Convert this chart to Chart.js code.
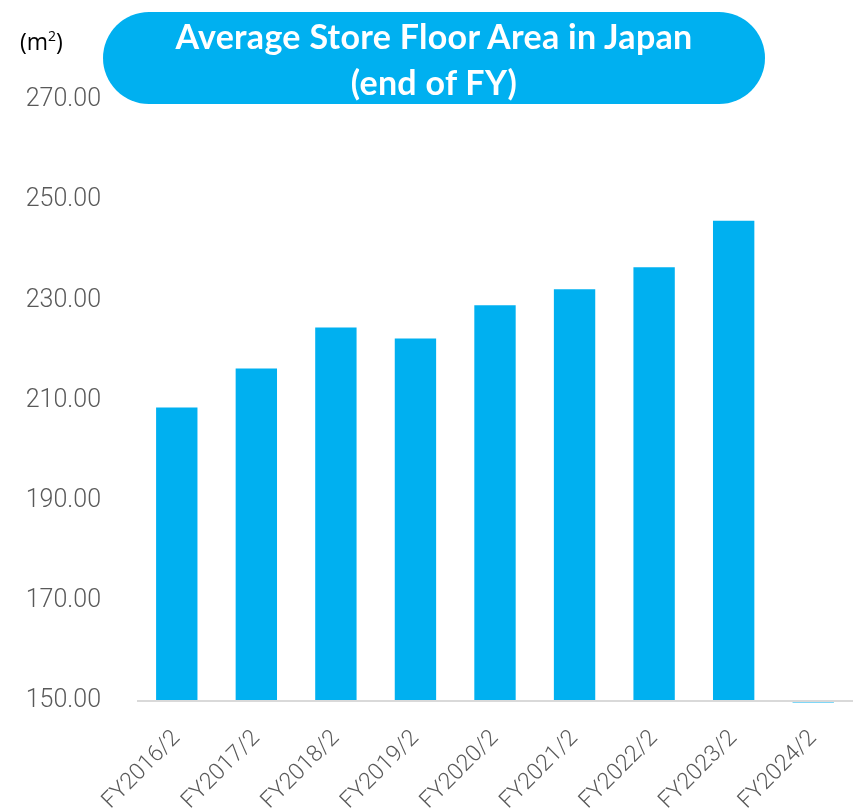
<!DOCTYPE html>
<html>
<head>
<meta charset="utf-8">
<script src="https://cdn.jsdelivr.net/npm/chart.js@4"></script>
<style>
    html, body { margin: 0; padding: 0; background: #fff; overflow: hidden; }
    #wrap { position: relative; width: 855px; height: 808px; overflow: hidden; }
    #title {
        position: absolute; left: 103px; top: 12px; width: 662px; height: 92px;
        background: #00b0f0; border-radius: 46px;
        color: #fff; font-family: Lato, sans-serif; font-weight: bold; font-size: 34px;
        letter-spacing: 0.3px; line-height: 46px; text-align: center; padding-top: 1px;
        box-sizing: border-box;
    }
    #unit {
        position: absolute; left: 20px; top: 25px;
        font-family: "Open Sans", sans-serif; font-size: 23px; color: #000;
    }
    #unit sup { font-size: 14px; }
</style>
</head>
<body>
<div id="wrap">
    <canvas id="floorChart" width="855" height="831"></canvas>
    <div id="title">Average Store Floor Area in Japan<br>(end of FY)</div>
    <div id="unit">(m<sup>2</sup>)</div>
</div>
<script>
const categories = ['FY2016/2', 'FY2017/2', 'FY2018/2', 'FY2019/2', 'FY2020/2',
    'FY2021/2', 'FY2022/2', 'FY2023/2', 'FY2024/2'];
const floorArea = [208.6, 216.4, 224.6, 222.4, 229.0, 232.2, 236.6, 245.9, 149.7];
const yMin = 150;
const yMax = 270;
const yStep = 20;

new Chart(document.getElementById('floorChart'), {
    type: 'bar',
    data: {
        labels: categories,
        datasets: [{
            label: 'Average floor area',
            data: floorArea,
            backgroundColor: '#00b0f0',
            barPercentage: 0.52,
            categoryPercentage: 1,
            base: yMin,
            clip: false
        }]
    },
    options: {
        responsive: false,
        animation: false,
        layout: { padding: { left: 22, right: 2, top: 100, bottom: 0 } },
        plugins: {
            legend: { display: false },
            tooltip: { enabled: false }
        },
        scales: {
            x: {
                grid: { display: false },
                border: { display: false },
                ticks: {
                    color: '#595959',
                    font: { family: 'Roboto', weight: 300, size: 23 },
                    minRotation: 45,
                    maxRotation: 45,
                    padding: 16
                },
                afterFit: s => { s.paddingLeft = 0; s.paddingRight = 0; }
            },
            y: {
                min: yMin,
                max: yMax,
                border: { display: false },
                grid: {
                    drawTicks: false,
                    lineWidth: 2,
                    color: ctx => ctx.tick && ctx.tick.value === yMin ? '#d9d9d9' : 'rgba(0,0,0,0)'
                },
                ticks: {
                    stepSize: yStep,
                    color: '#595959',
                    font: { family: 'Roboto', weight: 300, size: 25 },
                    padding: 36,
                    callback: v => v.toFixed(2)
                },
                afterFit: s => { s.width = 115; }
            }
        }
    }
});
</script>
</body>
</html>
